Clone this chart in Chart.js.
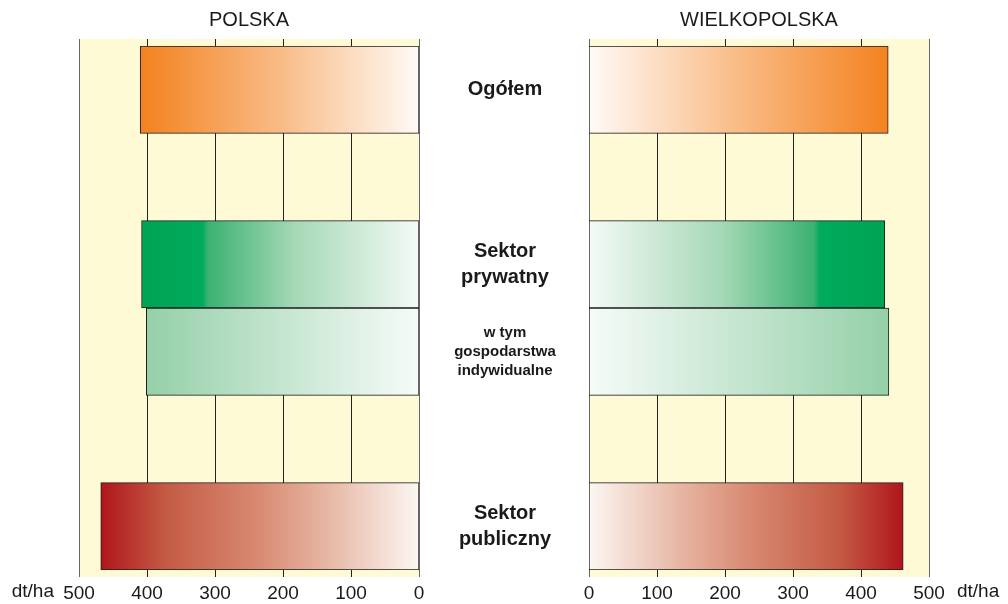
<!DOCTYPE html>
<html>
<head>
<meta charset="utf-8">
<script src="https://cdn.jsdelivr.net/npm/chart.js@4.4.0/dist/chart.umd.min.js"></script>
<style>
  body { margin: 0; background: #fff; }
  #wrap { position: relative; width: 1008px; height: 604px; }
  canvas { position: absolute; left: 0; top: 0; }
</style>
</head>
<body>
<div id="wrap">
  <canvas id="left" width="1008" height="604"></canvas>
  <canvas id="right" width="1008" height="604"></canvas>
</div>
<script>
// rows of the chart, empty strings are the gaps between groups
var rowLabels = [['Ogółem'], [], ['Sektor', 'prywatny'], ['w tym', 'gospodarstwa', 'indywidualne'], [], ['Sektor', 'publiczny']];
var smallRow = [false, false, false, true, false, false];

// plon w dt/ha
var polska = [410, null, 408, 401, null, 468];
var wielkopolska = [440, null, 435, 441, null, 462];

var xTicks = [0, 100, 200, 300, 400, 500];
var unit = 'dt/ha';

// gradient stops per row, from 0 (pale) to the end of the bar (full colour)
var rowStops = [
    [[0, '#fffaf6'], [0.5, '#f9bb86'], [1, '#f3821f']],
    [],
    [[0, '#f4faf6'], [0.45, '#a5d8b6'], [0.76, '#3bb271'], [0.78, '#00ab5c'], [1, '#00a452']],
    [[0, '#f6fbf8'], [1, '#94d0a8']],
    [],
    [[0, '#fcf6f2'], [0.3, '#e6b4a1'], [0.5, '#d98b73'], [0.8, '#c45a43'], [1, '#b0151b']]
];

var font = '"Liberation Sans", Arial, sans-serif';

function barFill(ctx) {
    var chart = ctx.chart;
    if (!chart.chartArea || ctx.raw == null) return 'transparent';
    var xs = chart.scales.x;
    var x0 = xs.getPixelForValue(0);
    var x1 = xs.getPixelForValue(ctx.raw);
    var g = chart.ctx.createLinearGradient(x0, 0, x1, 0);
    rowStops[ctx.dataIndex].forEach(function (s) { g.addColorStop(s[0], s[1]); });
    return g;
}

// cream panel + vertical grid, a bit taller than the bar band
var panelPlugin = {
    id: 'panel',
    beforeDatasetsDraw: function (chart) {
        var c = chart.ctx, a = chart.chartArea, xs = chart.scales.x;
        c.save();
        c.fillStyle = '#fffad6';
        c.fillRect(a.left, a.top - 7, a.right - a.left, a.bottom - a.top + 14);
        xTicks.forEach(function (v, i) {
            var px = Math.round(xs.getPixelForValue(v)) + 0.5;
            c.strokeStyle = (i === 0 || i === xTicks.length - 1) ? '#666' : '#222';
            c.lineWidth = 1;
            c.beginPath();
            c.moveTo(px, a.top - 7);
            c.lineTo(px, a.bottom + 7);
            c.stroke();
        });
        c.restore();
    },
    afterDraw: function (chart) {
        var c = chart.ctx, a = chart.chartArea, xs = chart.scales.x;
        var opt = chart.options.plugins.panel;
        c.save();
        c.fillStyle = '#1a1a1a';
        c.textBaseline = 'middle';
        // title above the panel
        c.font = '20px ' + font;
        c.textAlign = 'center';
        c.fillText(opt.title, (a.left + a.right) / 2, 20);
        // unit next to the 500 tick
        c.font = '19px ' + font;
        var p500 = xs.getPixelForValue(500);
        if (opt.reverse) {
            c.textAlign = 'right';
            c.fillText(unit, p500 - 25, 592);
        } else {
            c.textAlign = 'left';
            c.fillText(unit, p500 + 28, 592);
        }
        // row names in the middle column
        if (opt.rowNames) {
            var ys = chart.scales.y;
            c.textAlign = 'center';
            rowLabels.forEach(function (lines, i) {
                if (!lines.length) return;
                var size = smallRow[i] ? 15 : 20;
                var lh = smallRow[i] ? 19 : 26;
                c.font = 'bold ' + size + 'px ' + font;
                var cy = ys.getPixelForValue(i);
                var y0 = cy - (lines.length - 1) * lh / 2;
                lines.forEach(function (t, k) { c.fillText(t, 505, y0 + k * lh); });
            });
        }
        c.restore();
    }
};

function makeChart(id, values, title, reverse, padLeft, padRight) {
    var labels = rowLabels.map(function (l) { return l.join(' '); });
    return new Chart(document.getElementById(id), {
        type: 'bar',
        data: {
            labels: labels,
            datasets: [{
                data: values,
                backgroundColor: barFill,
                borderColor: '#1e1e1e',
                borderWidth: 1,
                borderSkipped: false,
                barPercentage: 1,
                categoryPercentage: 1
            }]
        },
        options: {
            indexAxis: 'y',
            responsive: false,
            animation: false,
            devicePixelRatio: 1,
            layout: { padding: { left: padLeft, right: padRight, top: 46, bottom: 0 } },
            scales: {
                x: {
                    min: 0, max: 500, reverse: reverse,
                    afterBuildTicks: function (s) { s.ticks = xTicks.map(function (v) { return { value: v }; }); },
                    afterFit: function (s) { s.height = 34; },
                    grid: { display: false, drawTicks: false },
                    border: { display: false },
                    ticks: { color: '#1a1a1a', padding: 12, font: { family: font, size: 19 }, maxRotation: 0, autoSkip: false }
                },
                y: { display: false }
            },
            plugins: {
                legend: { display: false },
                tooltip: { enabled: false },
                panel: { title: title, reverse: reverse, rowNames: reverse }
            }
        },
        plugins: [panelPlugin]
    });
}

makeChart('left', polska, 'POLSKA', true, 79, 1008 - 419);
makeChart('right', wielkopolska, 'WIELKOPOLSKA', false, 589, 1008 - 929);
</script>
</body>
</html>
